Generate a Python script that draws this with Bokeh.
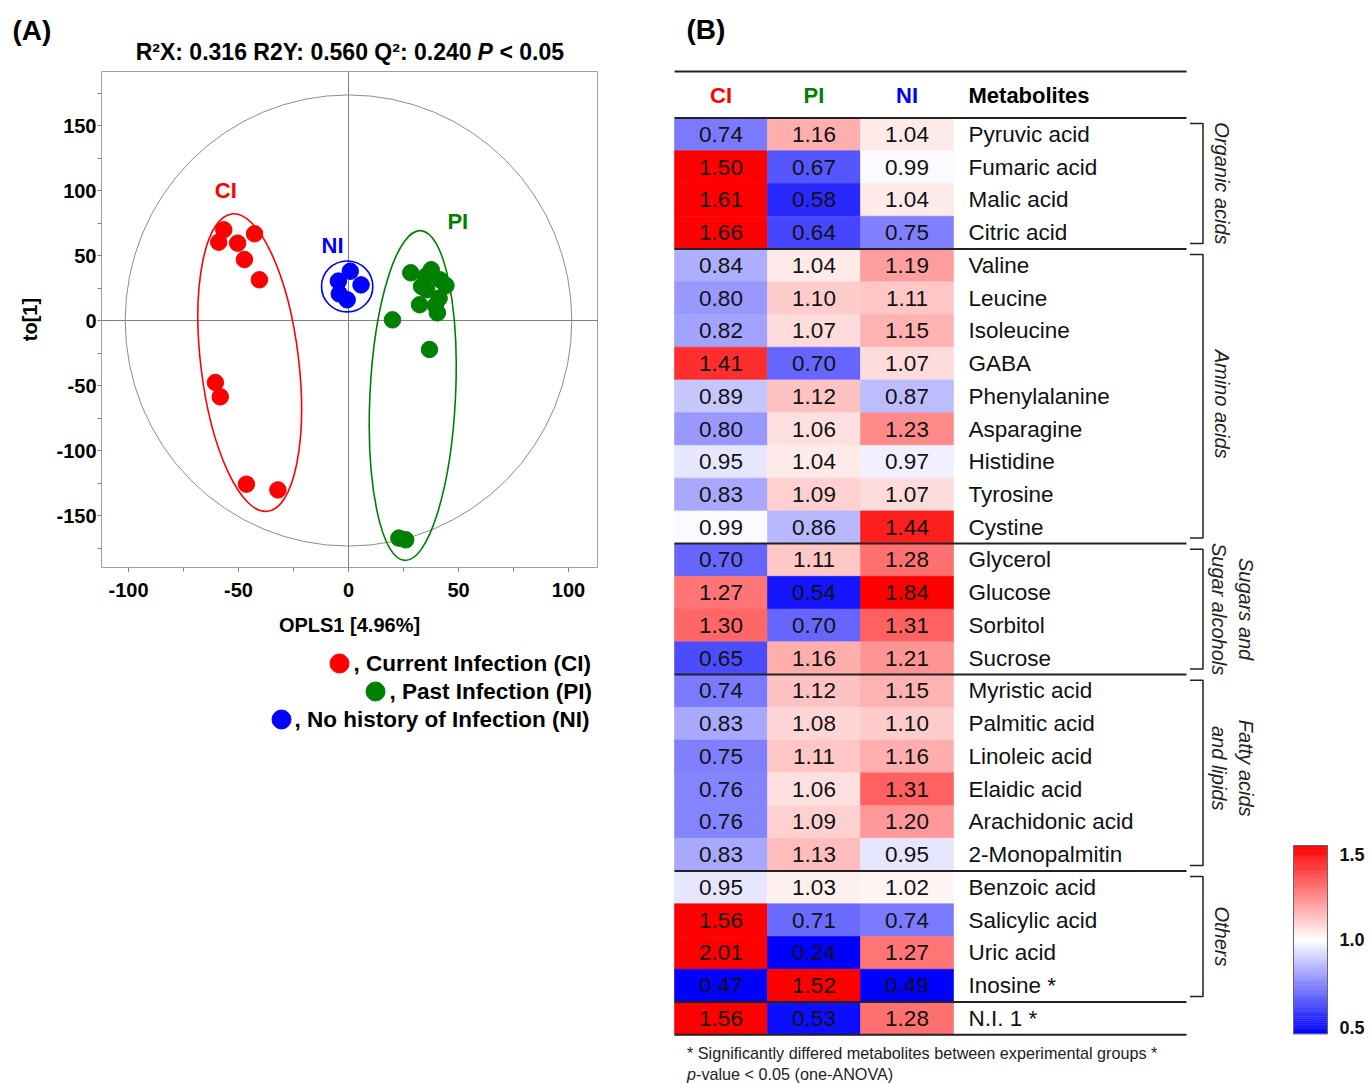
import numpy as np
from bokeh.plotting import figure
from bokeh.models import Range1d, SingleIntervalTicker, PrintfTickFormatter, ColumnDataSource
from bokeh.transform import linear_cmap
from bokeh.core.properties import value
from bokeh.embed import file_html
from bokeh.resources import INLINE

FONT = "Liberation Sans"

# ---------------- Panel A data (OPLS-DA scores) ----------------
ci_x = [-56.7, -59.0, -50.4, -42.7, -47.3, -40.5, -60.5, -58.3, -46.4, -32.1]
ci_y = [69.8, 60.2, 59.5, 66.7, 46.9, 31.3, -47.7, -58.7, -125.9, -130.3]
pi_x = [28.3, 35.0, 37.6, 41.6, 44.3, 33.2, 35.5, 41.2, 32.3, 39.5, 40.4, 20.0, 36.8, 22.9, 26.0]
pi_y = [36.7, 33.8, 39.0, 31.3, 26.9, 26.2, 23.6, 17.2, 12.1, 11.5, 5.9, 0.5, -22.3, -167.4, -168.7]
ni_x = [0.8, -4.6, 5.7, -4.2, -0.6]
ni_y = [37.9, 30.3, 27.4, 20.5, 15.9]

# group confidence ellipses (CI, PI, NI) and Hotelling T2 ellipse
ell_x = [-44.9, 29.2, -0.6]
ell_y = [-32.4, -57.7, 26.2]
ell_w = [44.5, 38.9, 23.3]
ell_h = [230.4, 254.0, 39.2]
ell_angle = [0.12, -0.048, 0.0]
t2_w, t2_h = 203.0, 347.0

title_main = "R\u00b2X: 0.316 R2Y: 0.560 Q\u00b2: 0.240"
x_label = "OPLS1 [4.96%]"
y_label = "to[1]"
legend_labels = [", Current Infection (CI)", ", Past Infection (PI)", ", No history of Infection (NI)"]

# ---------------- Panel B data (heatmap) ----------------
metabolites = ["Pyruvic acid", "Fumaric acid", "Malic acid", "Citric acid",
               "Valine", "Leucine", "Isoleucine", "GABA", "Phenylalanine", "Asparagine",
               "Histidine", "Tyrosine", "Cystine",
               "Glycerol", "Glucose", "Sorbitol", "Sucrose",
               "Myristic acid", "Palmitic acid", "Linoleic acid", "Elaidic acid",
               "Arachidonic acid", "2-Monopalmitin",
               "Benzoic acid", "Salicylic acid", "Uric acid", "Inosine *", "N.I. 1 *"]
ci_vals = [0.74, 1.50, 1.61, 1.66, 0.84, 0.80, 0.82, 1.41, 0.89, 0.80, 0.95, 0.83, 0.99,
           0.70, 1.27, 1.30, 0.65, 0.74, 0.83, 0.75, 0.76, 0.76, 0.83, 0.95, 1.56, 2.01, 0.47, 1.56]
pi_vals = [1.16, 0.67, 0.58, 0.64, 1.04, 1.10, 1.07, 0.70, 1.12, 1.06, 1.04, 1.09, 0.86,
           1.11, 0.54, 0.70, 1.16, 1.12, 1.08, 1.11, 1.06, 1.09, 1.13, 1.03, 0.71, 0.24, 1.52, 0.53]
ni_vals = [1.04, 0.99, 1.04, 0.75, 1.19, 1.11, 1.15, 1.07, 0.87, 1.23, 0.97, 1.07, 1.44,
           1.28, 1.84, 1.31, 1.21, 1.15, 1.10, 1.16, 1.31, 1.20, 0.95, 1.02, 0.74, 1.27, 0.49, 1.28]
groups = ["CI", "PI", "NI"]
group_colors = ["#ff0000", "#008000", "#0000ff"]
classes = [["Organic acids"], ["Amino acids"], ["Sugars and", "Sugar alcohols"],
           ["Fatty acids", "and lipids"], ["Others"]]
class_rows = [(0, 4), (4, 13), (13, 17), (17, 23), (23, 27)]
cb_ticks = [1.5, 1.0, 0.5]
footnote1 = "* Significantly differed metabolites between experimental groups *"
footnote2 = "-value < 0.05 (one-ANOVA)"

W, H = 1370, 1083


# ---------- panel A scale: score units <-> canvas px ----------
def ax(px):
    return (px - 348.0) / 2.2


def ay(py):
    return (320.0 - py) / 1.3


AX0, AX1 = ax(101), ax(597)
AY0, AY1 = ay(567), ay(71)


# ---------- panel B scale: cell units <-> canvas px ----------
def bx(px):
    return (px - 674.0) / 93.0


def by(py):
    return (py - 117.5) / 32.74


p = figure(width=W, height=H,
           x_range=Range1d(ax(0), ax(W)), y_range=Range1d(ay(H), ay(0)),
           output_backend="svg", toolbar_location=None, title=None,
           min_border_left=0, min_border_right=0, min_border_top=0, min_border_bottom=0)
p.extra_x_ranges = {"hx": Range1d(bx(0), bx(W))}
p.extra_y_ranges = {"hy": Range1d(by(H), by(0))}
p.outline_line_color = None
p.grid.visible = False
p.background_fill_color = "white"
p.border_fill_color = "white"

# ======================= PANEL A =======================
xa, ya = p.xaxis[0], p.yaxis[0]
for axis in (xa, ya):
    axis.ticker = SingleIntervalTicker(interval=50, num_minor_ticks=2)
    axis.formatter = PrintfTickFormatter(format="%d")
    axis.axis_line_color = None
    axis.major_tick_line_color = "#808080"
    axis.minor_tick_line_color = "#808080"
    axis.major_tick_out = 4
    axis.major_tick_in = 0
    axis.minor_tick_out = 4
    axis.minor_tick_in = 0
    axis.major_label_text_font = FONT
    axis.major_label_text_font_style = "bold"
    axis.major_label_text_font_size = "20px"
    axis.major_label_text_color = "black"
    axis.axis_label_text_font = FONT
    axis.axis_label_text_font_style = "bold"
    axis.axis_label_text_font_size = "20px"
    axis.axis_label_text_color = "black"
xa.fixed_location = AY0
xa.bounds = (AX0, AX1)
ya.fixed_location = AX0
ya.bounds = (AY0, AY1)
xa.axis_label = x_label
ya.axis_label = y_label
xa.major_label_standoff = 11
xa.axis_label_standoff = 14
ya.major_label_standoff = 1
ya.axis_label_standoff = 12

# plot box and zero lines
p.quad(left=[AX0], right=[AX1], bottom=[AY0], top=[AY1], fill_color=None,
       line_color="#a0a0a0", line_width=1)
p.segment(x0=[0, AX0], y0=[AY0, 0], x1=[0, AX1], y1=[AY1, 0], line_color="#808080", line_width=1)

p.ellipse(x=[0], y=[0], width=[t2_w], height=[t2_h], fill_color=None,
          line_color="#8c8c8c", line_width=1)
p.ellipse(x=ell_x, y=ell_y, width=ell_w, height=ell_h, angle=ell_angle,
          fill_color=None, line_color=group_colors, line_width=1.6)

p.scatter(ci_x, ci_y, size=16.5, fill_color=group_colors[0], line_color=group_colors[0])
p.scatter(pi_x, pi_y, size=16.5, fill_color=group_colors[1], line_color=group_colors[1])
p.scatter(ni_x, ni_y, size=16.5, fill_color=group_colors[2], line_color=group_colors[2])

# group labels inside the score plot
p.text(x=[ax(225.3), ax(332), ax(457.3)], y=[ay(190), ay(245), ay(220.7)],
       text=["CI", "NI", "PI"], text_color=[group_colors[0], group_colors[2], group_colors[1]],
       text_align="center", text_baseline="middle", text_font=value(FONT),
       text_font_style="bold", text_font_size="22px")

# panel letter and title
p.text(x=[ax(12)], y=[ay(30)], text=["(A)"], text_align="left", text_baseline="middle",
       text_font=value(FONT), text_font_style="bold", text_font_size="28px", text_color="black")
p.text(x=[ax(471)], y=[ay(51)], text=[title_main], text_align="right", text_baseline="middle",
       text_font=value(FONT), text_font_style="bold", text_font_size="23px", text_color="black")
p.text(x=[ax(477)], y=[ay(51)], text=["P"], text_align="left", text_baseline="middle",
       text_font=value(FONT), text_font_style="bold italic", text_font_size="23px", text_color="black")
p.text(x=[ax(499)], y=[ay(51)], text=["< 0.05"], text_align="left", text_baseline="middle",
       text_font=value(FONT), text_font_style="bold", text_font_size="23px", text_color="black")

# legend: dot followed by its label, rows right-aligned
leg_dot_px = [339, 375, 281]
leg_txt_px = [353, 389, 294]
leg_row_py = [663, 691, 719]
p.scatter([ax(v) for v in leg_dot_px], [ay(v) for v in leg_row_py], size=19,
          fill_color=group_colors, line_color=group_colors)
p.text(x=[ax(v) for v in leg_txt_px], y=[ay(v) for v in leg_row_py], text=legend_labels,
       text_align="left", text_baseline="middle", text_font=value(FONT), text_font_style="bold",
       text_font_size="22.5px", text_color="black")

# ======================= PANEL B =======================
HB = dict(x_range_name="hx", y_range_name="hy")


def ramp():
    cols = []
    for i in range(256):
        t = i / 255
        if t < 0.5:
            c = int(round(255 * 2 * t))
            cols.append("#%02x%02xff" % (c, c))
        else:
            c = int(round(255 * 2 * (1 - t)))
            cols.append("#ff%02x%02x" % (c, c))
    return cols


PAL = ramp()


def cmap(field):
    return linear_cmap(field, PAL, 0.5, 1.5, low_color="#0000ff", high_color="#ff0000")


n = len(metabolites)
cx_list, cy_list, v_list = [], [], []
for j, vals in enumerate([ci_vals, pi_vals, ni_vals]):
    for i, v in enumerate(vals):
        cx_list.append(j + 0.5)
        cy_list.append(i + 0.5)
        v_list.append(v)
heat = ColumnDataSource(dict(x=cx_list, y=cy_list, val=v_list, label=["%.2f" % v for v in v_list]))
p.rect(x="x", y="y", width=1, height=1, source=heat, fill_color=cmap("val"),
       line_color=cmap("val"), line_width=0.6, **HB)
p.text(x="x", y="y", text="label", source=heat, text_align="center", text_baseline="middle",
       text_font=value(FONT), text_font_size="22.5px", text_color="#111111", **HB)

rows_y = [i + 0.5 for i in range(n)]
p.text(x=[bx(968)] * n, y=rows_y, text=metabolites, text_align="left", text_baseline="middle",
       text_font=value(FONT), text_font_size="22.5px", text_color="#111111", **HB)

# header
p.text(x=[0.5, 1.5, 2.5], y=[by(95)] * 3, text=groups, text_color=group_colors,
       text_align="center", text_baseline="middle", text_font=value(FONT),
       text_font_style="bold", text_font_size="22px", **HB)
p.text(x=[bx(968)], y=[by(95)], text=["Metabolites"], text_align="left", text_baseline="middle",
       text_font=value(FONT), text_font_style="bold", text_font_size="22px", text_color="black", **HB)

# horizontal rules
rule_rows = [by(71), 0] + [e for (_, e) in class_rows] + [n]
p.segment(x0=[0] * len(rule_rows), x1=[bx(1186)] * len(rule_rows), y0=rule_rows, y1=rule_rows,
          line_color="#222222", line_width=2, **HB)

# brackets and class labels
INS = 0.17
xv, xh = bx(1202.5), bx(1189.5)
label_shift = [0.0, 0.24, 0.0, -0.14, 0.0]
p.multi_line(xs=[[xh, xv, xv, xh] for _ in class_rows],
             ys=[[s + INS, s + INS, e - INS, e - INS] for (s, e) in class_rows],
             line_color="#222222", line_width=1.5, **HB)
for lines, (s, e), sh in zip(classes, class_rows, label_shift):
    mid = (s + e) / 2 + sh
    xs = [bx(1221.5)] if len(lines) == 1 else [bx(1245), bx(1218)]
    p.text(x=xs, y=[mid] * len(lines), text=lines, angle=-np.pi / 2, text_align="center",
           text_baseline="middle", text_font=value(FONT), text_font_style="italic",
           text_font_size="20px", text_color="#222222", **HB)

# colour bar
CB_B, CB_T = by(1033.3), by(845)
CB_L, CB_R = bx(1293), bx(1327)
edges = np.linspace(0.5, 1.5, 101)


def cb_y(v):
    return CB_B + (np.asarray(v) - 0.5) * (CB_T - CB_B)


cb_src = ColumnDataSource(dict(bottom=cb_y(edges[:-1]), top=cb_y(edges[1:]),
                               val=(edges[:-1] + edges[1:]) / 2))
p.quad(left=CB_L, right=CB_R, bottom="bottom", top="top", source=cb_src,
       fill_color=cmap("val"), line_color=cmap("val"), line_width=0.5, **HB)
p.quad(left=[CB_L], right=[CB_R], bottom=[CB_B], top=[CB_T], fill_color=None,
       line_color="#666666", line_width=1, **HB)
for t, base, off in zip(cb_ticks, ["top", "middle", "bottom"], [2, 0, 0]):
    p.text(x=[bx(1339)], y=[float(cb_y(t))], text=["%.1f" % t], text_align="left",
           text_baseline=base, y_offset=off, text_font=value(FONT), text_font_style="bold",
           text_font_size="18px", text_color="#111111", **HB)

# panel letter and footnotes
p.text(x=[bx(686)], y=[by(29)], text=["(B)"], text_align="left", text_baseline="middle",
       text_font=value(FONT), text_font_style="bold", text_font_size="28px", text_color="black", **HB)
p.text(x=[bx(686.5)], y=[by(1052.5)], text=[footnote1], text_align="left", text_baseline="middle",
       text_font=value(FONT), text_font_size="16.2px", text_color="#222222", **HB)
p.text(x=[bx(686.5)], y=[by(1073)], text=["p"], text_align="left", text_baseline="middle",
       text_font=value(FONT), text_font_style="italic", text_font_size="16.2px", text_color="#222222", **HB)
p.text(x=[bx(695.5)], y=[by(1073)], text=[footnote2], text_align="left", text_baseline="middle",
       text_font=value(FONT), text_font_size="16.2px", text_color="#222222", **HB)

open("out.html", "w").write(file_html(p, INLINE))
